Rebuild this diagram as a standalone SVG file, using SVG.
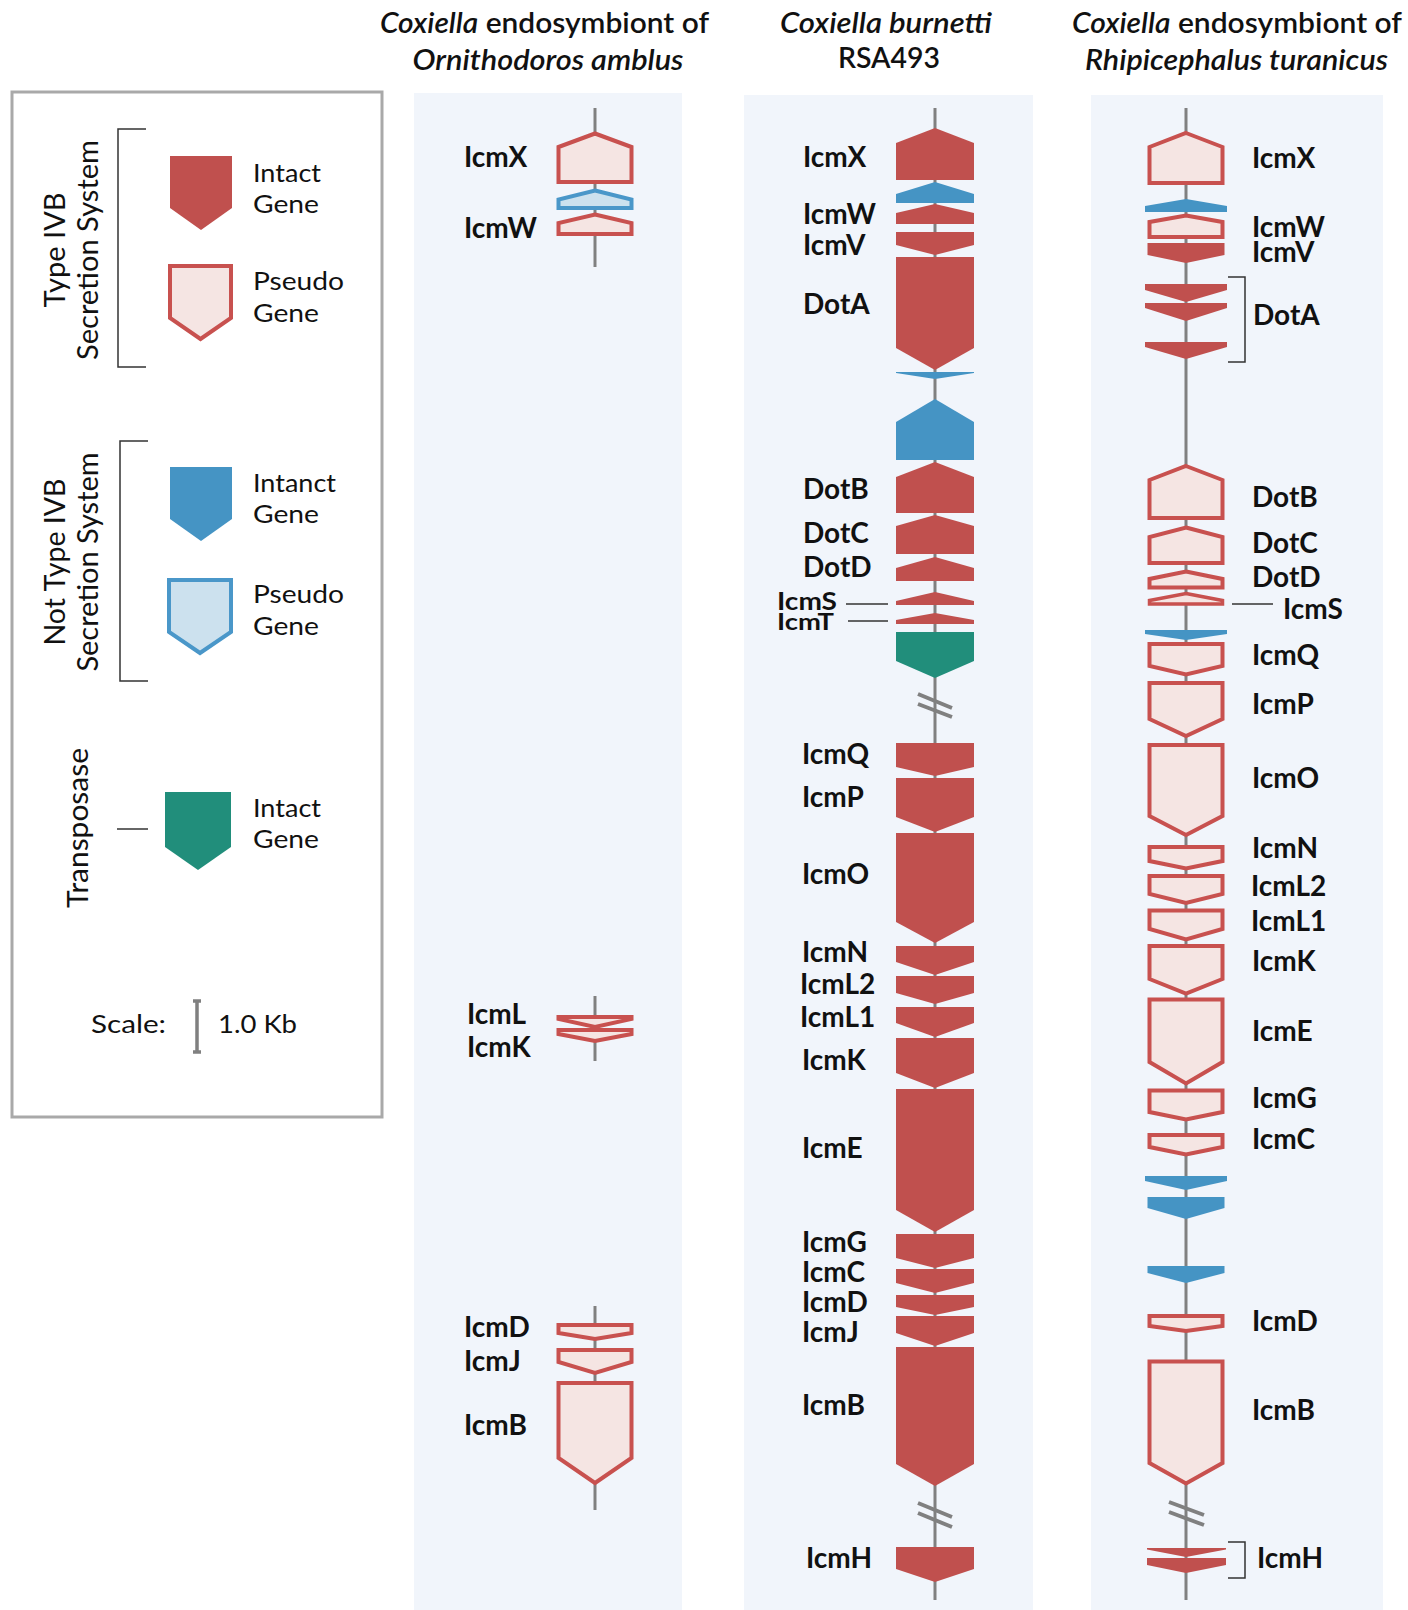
<svg xmlns="http://www.w3.org/2000/svg" width="1408" height="1610" viewBox="0 0 1408 1610">
<style>
.ri{fill:#C0504E}
.rp{fill:#F5E5E3;stroke:#C8514F;stroke-width:4;stroke-linejoin:miter}
.bi{fill:#4594C4}
.bp{fill:#CCE1EE;stroke:#4A97C9;stroke-width:4}
.gi{fill:#218E7B}
.axis{stroke:#808080;stroke-width:3;fill:none}
.brk{stroke:#808080;stroke-width:4;fill:none}
.thin{stroke:#333;stroke-width:1.5;fill:none}
.lbl{font-family:Lato,"Liberation Sans",sans-serif;font-weight:700;font-size:28px;fill:#111}
.sm{font-size:25px}
.xs{font-size:23px}
.ttl{font-family:Lato,"Liberation Sans",sans-serif;font-weight:600;font-size:29px;fill:#111;text-anchor:middle}
.leg{font-family:Lato,"Liberation Sans",sans-serif;font-size:25px;fill:#111}
.legv{font-family:Lato,"Liberation Sans",sans-serif;font-size:28px;fill:#111;text-anchor:middle}
.panel{fill:#F1F5FB}
</style>
<rect width="1408" height="1610" fill="#fff"/>
<g id="panels">
<rect class="panel" x="414" y="93" width="268" height="1517"/>
<rect class="panel" x="744" y="95" width="289" height="1515"/>
<rect class="panel" x="1091" y="95" width="292" height="1515"/>
</g>
<g id="titles">
<text class="ttl" x="544.5" y="33" textLength="329" lengthAdjust="spacingAndGlyphs"><tspan font-style="italic">Coxiella</tspan> endosymbiont of</text>
<text class="ttl" x="548" y="70" font-style="italic" textLength="271" lengthAdjust="spacingAndGlyphs">Ornithodoros amblus</text>
<text class="ttl" x="886" y="33" font-style="italic" textLength="212" lengthAdjust="spacingAndGlyphs">Coxiella burnetti</text>
<text class="ttl" x="889" y="68" textLength="102" lengthAdjust="spacingAndGlyphs">RSA493</text>
<text class="ttl" x="1237" y="33" textLength="330" lengthAdjust="spacingAndGlyphs"><tspan font-style="italic">Coxiella</tspan> endosymbiont of</text>
<text class="ttl" x="1236.5" y="70" font-style="italic" textLength="303" lengthAdjust="spacingAndGlyphs">Rhipicephalus turanicus</text>
</g>
<g id="legend">
<rect x="12" y="92" width="370" height="1025" fill="#fff" stroke="#A9A9A9" stroke-width="3"/>
<path class="thin" d="M146,129 H118 V367 H146"/>
<text class="legv" transform="translate(65,250) rotate(-90)" textLength="115" lengthAdjust="spacingAndGlyphs">Type IVB</text>
<text class="legv" transform="translate(98,250) rotate(-90)" textLength="220" lengthAdjust="spacingAndGlyphs">Secretion System</text>
<polygon class="ri" points="170,156 232,156 232,208 201,230 170,208"/>
<text class="leg" x="253" y="182" textLength="68" lengthAdjust="spacingAndGlyphs">Intact</text>
<text class="leg" x="253" y="213" textLength="66" lengthAdjust="spacingAndGlyphs">Gene</text>
<polygon class="rp" points="170,266 231,266 231,318 200.5,339 170,318"/>
<text class="leg" x="253" y="290" textLength="91" lengthAdjust="spacingAndGlyphs">Pseudo</text>
<text class="leg" x="253" y="322" textLength="66" lengthAdjust="spacingAndGlyphs">Gene</text>
<path class="thin" d="M148,441 H120 V681 H148"/>
<text class="legv" transform="translate(65,562) rotate(-90)" textLength="167" lengthAdjust="spacingAndGlyphs">Not Type IVB</text>
<text class="legv" transform="translate(98,562) rotate(-90)" textLength="219" lengthAdjust="spacingAndGlyphs">Secretion System</text>
<polygon class="bi" points="170,467 232,467 232,519 201,541 170,519"/>
<text class="leg" x="253" y="492" textLength="83" lengthAdjust="spacingAndGlyphs">Intanct</text>
<text class="leg" x="253" y="523" textLength="66" lengthAdjust="spacingAndGlyphs">Gene</text>
<polygon class="bp" points="169,580 231,580 231,632 200,653 169,632"/>
<text class="leg" x="253" y="603" textLength="91" lengthAdjust="spacingAndGlyphs">Pseudo</text>
<text class="leg" x="253" y="635" textLength="66" lengthAdjust="spacingAndGlyphs">Gene</text>
<text class="legv" transform="translate(88,828) rotate(-90)" textLength="160" lengthAdjust="spacingAndGlyphs">Transposase</text>
<line class="thin" x1="117" y1="829" x2="148" y2="829"/>
<polygon class="gi" points="165,792 231,792 231,847 198,870 165,847"/>
<text class="leg" x="253" y="817" textLength="68" lengthAdjust="spacingAndGlyphs">Intact</text>
<text class="leg" x="253" y="848" textLength="66" lengthAdjust="spacingAndGlyphs">Gene</text>
<text class="leg" x="91" y="1033" textLength="75" lengthAdjust="spacingAndGlyphs">Scale:</text>
<path d="M197,1001 V1052 M193,1001 H201 M193,1052 H201" stroke="#808080" stroke-width="3.5" fill="none"/>
<text class="leg" x="218" y="1033" textLength="79" lengthAdjust="spacingAndGlyphs">1.0 Kb</text>
</g>
<g id="connectors">
<line class="axis" x1="595" y1="108" x2="595" y2="267"/>
<line class="axis" x1="595" y1="996" x2="595" y2="1061"/>
<line class="axis" x1="595" y1="1306" x2="595" y2="1510"/>
<line class="axis" x1="935" y1="108" x2="935" y2="1600"/>
<line class="axis" x1="1186" y1="108" x2="1186" y2="1600"/>
<path class="brk" d="M918,694 L952,708 M918,704 L952,717"/>
<path class="brk" d="M918,1503 L952,1517 M918,1513 L952,1527"/>
<path class="brk" d="M1169,1502 L1204,1515 M1169,1512 L1204,1525"/>
<line class="thin" x1="846" y1="604" x2="888" y2="604"/>
<line class="thin" x1="848" y1="621" x2="888" y2="621"/>
<line class="thin" x1="1232" y1="604" x2="1273" y2="604"/>
<path class="thin" d="M1228,277 H1245 V362 H1228"/>
<path class="thin" d="M1228,1542 H1245 V1578 H1228"/>
</g>
<g id="p1-genes">
<g id="p1-icmX"><polygon class="rp" points="595,133.5 631.5,147 631.5,182 558.5,182 558.5,147"/><text class="lbl" x="464" y="167">IcmX</text></g>
<g id="p1-blue"><polygon class="bp" points="595,190.5 631.5,199.5 631.5,208 558.5,208 558.5,199.5"/></g>
<g id="p1-icmW"><polygon class="rp" points="595,214.5 631.5,223 631.5,234 558.5,234 558.5,223"/><text class="lbl" x="464" y="238">IcmW</text></g>
<g id="p1-icmL"><polygon class="rp" points="558.5,1017 631.5,1017 631.5,1019 595,1027 558.5,1019"/><text class="lbl" x="467" y="1024">IcmL</text></g>
<g id="p1-icmK"><polygon class="rp" points="558.5,1030 631.5,1030 631.5,1034 595,1041 558.5,1034"/><text class="lbl" x="467" y="1057">IcmK</text></g>
<g id="p1-icmD"><polygon class="rp" points="558.5,1325 631.5,1325 631.5,1333 595,1339 558.5,1333"/><text class="lbl" x="464" y="1337">IcmD</text></g>
<g id="p1-icmJ"><polygon class="rp" points="558.5,1350 631.5,1350 631.5,1362 595,1373 558.5,1362"/><text class="lbl" x="464" y="1371">IcmJ</text></g>
<g id="p1-icmB"><polygon class="rp" points="558.5,1383 631.5,1383 631.5,1458 595,1483 558.5,1458"/><text class="lbl" x="464" y="1435">IcmB</text></g>
</g>
<g id="p2-genes">
<g id="p2-icmX"><polygon class="ri" points="935,128 974,143 974,180 896,180 896,143"/><text class="lbl" x="803" y="167">IcmX</text></g>
<g id="p2-blue1"><polygon class="bi" points="935,182 974,194 974,203 896,203 896,194"/></g>
<g id="p2-icmW"><polygon class="ri" points="935,204 974,213 974,224 896,224 896,213"/><text class="lbl" x="803" y="224">IcmW</text></g>
<g id="p2-icmV"><polygon class="ri" points="896,232 974,232 974,245 935,255 896,245"/><text class="lbl" x="803" y="255">IcmV</text></g>
<g id="p2-dotA"><polygon class="ri" points="896,257 974,257 974,348 935,370 896,348"/><text class="lbl" x="803" y="314">DotA</text></g>
<g id="p2-blue2"><polygon class="bi" points="896,372 974,372 974,373 935,379 896,373"/></g>
<g id="p2-blue3"><polygon class="bi" points="935,399 974,422 974,460 896,460 896,422"/></g>
<g id="p2-dotB"><polygon class="ri" points="935,462 974,477 974,513 896,513 896,477"/><text class="lbl" x="803" y="499">DotB</text></g>
<g id="p2-dotC"><polygon class="ri" points="935,515 974,526 974,554 896,554 896,526"/><text class="lbl" x="803" y="543">DotC</text></g>
<g id="p2-dotD"><polygon class="ri" points="935,557 974,568 974,581 896,581 896,568"/><text class="lbl" x="803" y="577">DotD</text></g>
<g id="p2-icmS"><polygon class="ri" points="935,592 974,601 974,605 896,605 896,601"/><text class="lbl sm" x="777" y="610" textLength="60" lengthAdjust="spacingAndGlyphs">IcmS</text></g>
<g id="p2-icmT"><polygon class="ri" points="935,613 974,620 974,624 896,624 896,620"/><text class="lbl xs" x="777" y="630" textLength="57" lengthAdjust="spacingAndGlyphs">IcmT</text></g>
<g id="p2-trans"><polygon class="gi" points="896,632 974,632 974,661 935,678 896,661"/></g>
<g id="p2-icmQ"><polygon class="ri" points="896,743 974,743 974,767 935,776 896,767"/><text class="lbl" x="802" y="764">IcmQ</text></g>
<g id="p2-icmP"><polygon class="ri" points="896,778 974,778 974,817 935,832 896,817"/><text class="lbl" x="802" y="807">IcmP</text></g>
<g id="p2-icmO"><polygon class="ri" points="896,833 974,833 974,922 935,943 896,922"/><text class="lbl" x="802" y="884">IcmO</text></g>
<g id="p2-icmN"><polygon class="ri" points="896,946 974,946 974,962 935,975 896,962"/><text class="lbl" x="802" y="962">IcmN</text></g>
<g id="p2-icmL2"><polygon class="ri" points="896,976 974,976 974,993 935,1004 896,993"/><text class="lbl" x="800" y="994">IcmL2</text></g>
<g id="p2-icmL1"><polygon class="ri" points="896,1007 974,1007 974,1023 935,1037 896,1023"/><text class="lbl" x="800" y="1027">IcmL1</text></g>
<g id="p2-icmK"><polygon class="ri" points="896,1038 974,1038 974,1073 935,1088 896,1073"/><text class="lbl" x="802" y="1070">IcmK</text></g>
<g id="p2-icmE"><polygon class="ri" points="896,1089 974,1089 974,1210 935,1232 896,1210"/><text class="lbl" x="802" y="1158">IcmE</text></g>
<g id="p2-icmG"><polygon class="ri" points="896,1234 974,1234 974,1258 935,1268 896,1258"/><text class="lbl" x="802" y="1252">IcmG</text></g>
<g id="p2-icmC"><polygon class="ri" points="896,1269 974,1269 974,1283 935,1293 896,1283"/><text class="lbl" x="802" y="1282">IcmC</text></g>
<g id="p2-icmD"><polygon class="ri" points="896,1295 974,1295 974,1307 935,1315 896,1307"/><text class="lbl" x="802" y="1312">IcmD</text></g>
<g id="p2-icmJ"><polygon class="ri" points="896,1316 974,1316 974,1333 935,1346 896,1333"/><text class="lbl" x="802" y="1342">IcmJ</text></g>
<g id="p2-icmB"><polygon class="ri" points="896,1347 974,1347 974,1464 935,1486 896,1464"/><text class="lbl" x="802" y="1415">IcmB</text></g>
<g id="p2-icmH"><polygon class="ri" points="896,1547 974,1547 974,1569 935,1582 896,1569"/><text class="lbl" x="806" y="1568">IcmH</text></g>
</g>
<g id="p3-genes">
<g id="p3-icmX"><polygon class="rp" points="1186,133 1222.5,147 1222.5,183 1149.5,183 1149.5,147"/><text class="lbl" x="1252" y="168">IcmX</text></g>
<g id="p3-blue1"><polygon class="bi" points="1186,199 1227,206 1227,212 1145,212 1145,206"/></g>
<g id="p3-icmW"><polygon class="rp" points="1186,215.5 1222.5,222 1222.5,237 1149.5,237 1149.5,222"/><text class="lbl" x="1252" y="237">IcmW</text></g>
<g id="p3-icmV"><polygon class="ri" points="1147.5,243 1224.5,243 1224.5,255 1186,263 1147.5,255"/><text class="lbl" x="1252" y="262">IcmV</text></g>
<g id="p3-dotA"><polygon class="ri" points="1145,284 1227,284 1227,290 1186,302 1145,290"/><polygon class="ri" points="1145,303 1227,303 1227,308 1186,321 1145,308"/><polygon class="ri" points="1145,342 1227,342 1227,347 1186,359 1145,347"/><text class="lbl" x="1253" y="325">DotA</text></g>
<g id="p3-dotB"><polygon class="rp" points="1186,466 1222.5,480 1222.5,518 1149.5,518 1149.5,480"/><text class="lbl" x="1252" y="507">DotB</text></g>
<g id="p3-dotC"><polygon class="rp" points="1186,527.5 1222.5,537 1222.5,563 1149.5,563 1149.5,537"/><text class="lbl" x="1252" y="553">DotC</text></g>
<g id="p3-dotD"><polygon class="rp" points="1186,571.5 1222.5,579 1222.5,587.5 1149.5,587.5 1149.5,579"/><text class="lbl" x="1252" y="587">DotD</text></g>
<g id="p3-icmS"><polygon class="rp" points="1186,593.5 1222.5,600.5 1222.5,604 1149.5,604 1149.5,600.5" style="stroke-width:3.5"/><text class="lbl" x="1283" y="619">IcmS</text></g>
<g id="p3-blue2"><polygon class="bi" points="1145,630 1227,630 1227,634 1186,640 1145,634"/></g>
<g id="p3-icmQ"><polygon class="rp" points="1149.5,644 1222.5,644 1222.5,666 1186,674.5 1149.5,666"/><text class="lbl" x="1252" y="665">IcmQ</text></g>
<g id="p3-icmP"><polygon class="rp" points="1149.5,683 1222.5,683 1222.5,719 1186,736 1149.5,719"/><text class="lbl" x="1252" y="714">IcmP</text></g>
<g id="p3-icmO"><polygon class="rp" points="1149.5,745 1222.5,745 1222.5,816 1186,835 1149.5,816"/><text class="lbl" x="1252" y="788">IcmO</text></g>
<g id="p3-icmN"><polygon class="rp" points="1149.5,847 1222.5,847 1222.5,861 1186,868.5 1149.5,861"/><text class="lbl" x="1252" y="858">IcmN</text></g>
<g id="p3-icmL2"><polygon class="rp" points="1149.5,876 1222.5,876 1222.5,894 1186,903 1149.5,894"/><text class="lbl" x="1251" y="896">IcmL2</text></g>
<g id="p3-icmL1"><polygon class="rp" points="1149.5,910.5 1222.5,910.5 1222.5,929 1186,939.5 1149.5,929"/><text class="lbl" x="1251" y="931">IcmL1</text></g>
<g id="p3-icmK"><polygon class="rp" points="1149.5,946 1222.5,946 1222.5,979 1186,993.5 1149.5,979"/><text class="lbl" x="1252" y="971">IcmK</text></g>
<g id="p3-icmE"><polygon class="rp" points="1149.5,999.5 1222.5,999.5 1222.5,1062 1186,1083.5 1149.5,1062"/><text class="lbl" x="1252" y="1041">IcmE</text></g>
<g id="p3-icmG"><polygon class="rp" points="1149.5,1090.5 1222.5,1090.5 1222.5,1112 1186,1119.5 1149.5,1112"/><text class="lbl" x="1252" y="1108">IcmG</text></g>
<g id="p3-icmC"><polygon class="rp" points="1149.5,1135 1222.5,1135 1222.5,1147 1186,1154.5 1149.5,1147"/><text class="lbl" x="1252" y="1149">IcmC</text></g>
<g id="p3-blue3"><polygon class="bi" points="1145,1176 1227,1176 1227,1181 1186,1190 1145,1181"/></g>
<g id="p3-blue4"><polygon class="bi" points="1147.5,1197 1224.5,1197 1224.5,1208 1186,1219 1147.5,1208"/></g>
<g id="p3-blue5"><polygon class="bi" points="1147.5,1266 1224.5,1266 1224.5,1273 1186,1283 1147.5,1273"/></g>
<g id="p3-icmD"><polygon class="rp" points="1149.5,1316 1222.5,1316 1222.5,1326 1186,1331 1149.5,1326"/><text class="lbl" x="1252" y="1331">IcmD</text></g>
<g id="p3-icmB"><polygon class="rp" points="1149.5,1361.5 1222.5,1361.5 1222.5,1463 1186,1483.5 1149.5,1463"/><text class="lbl" x="1252" y="1420">IcmB</text></g>
<g id="p3-icmH"><polygon class="ri" points="1147,1548 1226,1548 1226,1549.5 1186,1557 1147,1549.5"/><polygon class="ri" points="1147,1558 1226,1558 1226,1565 1186,1573 1147,1565"/><text class="lbl" x="1257" y="1568">IcmH</text></g>
</g>
</svg>
